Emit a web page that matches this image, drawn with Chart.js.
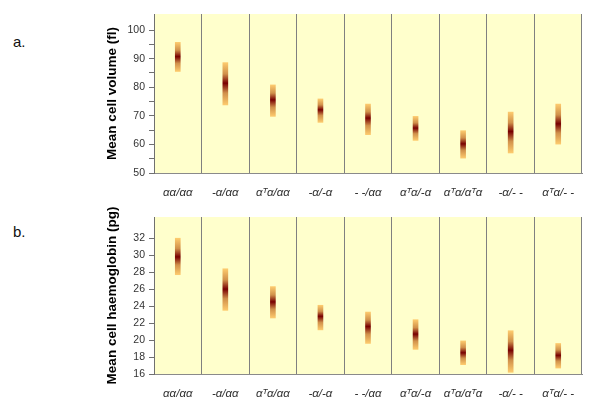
<!DOCTYPE html>
<html>
<head>
<meta charset="utf-8">
<script src="https://cdn.jsdelivr.net/npm/chart.js@4/dist/chart.umd.min.js"></script>
<style>
  body { margin: 0; background: #fff; width: 600px; height: 413px; position: relative; overflow: hidden; }
  .box { position: absolute; left: 0; width: 600px; }
  .tag { position: absolute; left: 13px; font: 15px "Liberation Sans", sans-serif; color: #111; }
</style>
</head>
<body>
<div class="tag" style="top:33px">a.</div>
<div class="tag" style="top:223px">b.</div>
<div class="box" style="top:0;height:200px"><canvas id="chart" width="600" height="200"></canvas></div>
<div class="box" style="top:200px;height:213px"><canvas id="chart2" width="600" height="213"></canvas></div>
<script>
const genotypes = ['αα/αα', '-α/αα', 'αᵀα/αα', '-α/-α', '- -/αα', 'αᵀα/-α', 'αᵀα/αᵀα', '-α/- -', 'αᵀα/- -'];

// mean cell volume (fl): range low..high, darkest at mean
const mcvLow  = [85.5, 73.8, 69.8, 67.7, 63.4, 61.4, 55.2, 57.0, 60.1];
const mcvMean = [90.7, 81.4, 75.6, 72.1, 69.2, 65.7, 60.2, 64.5, 67.2];
const mcvHigh = [95.7, 88.6, 80.8, 75.9, 74.1, 69.8, 64.8, 71.3, 74.1];

// mean cell haemoglobin (pg)
const mchLow  = [27.7, 23.5, 22.6, 21.2, 19.6, 18.9, 17.1, 16.2, 16.7];
const mchMean = [29.8, 26.0, 24.5, 22.8, 21.6, 20.7, 18.5, 18.8, 18.2];
const mchHigh = [32.0, 28.4, 26.3, 24.1, 23.3, 22.4, 19.9, 21.1, 19.6];

const bgPlugin = {
    id: 'bg',
    beforeDraw(chart){
        const {ctx, chartArea: a} = chart;
        ctx.save();
        ctx.fillStyle = '#ffffcc';
        ctx.fillRect(a.left, a.top, a.right - a.left, a.bottom - a.top);
        ctx.restore();
    }
};

function barGradient(low, mean, high){
    return function(c){
        const chart = c.chart;
        if (!chart.chartArea || c.type !== 'data') return '#c06030';
        const y = chart.scales.y;
        const i = c.dataIndex;
        const top = y.getPixelForValue(high[i]);
        const bot = y.getPixelForValue(low[i]);
        const mid = y.getPixelForValue(mean[i]);
        const g = chart.ctx.createLinearGradient(0, top, 0, bot);
        const m = Math.min(0.95, Math.max(0.05, (mid - top) / (bot - top)));
        g.addColorStop(0, '#fdcb6e');
        g.addColorStop(m * 0.55, '#d0904a');
        g.addColorStop(m, '#780000');
        g.addColorStop(m + (1 - m) * 0.45, '#d0904a');
        g.addColorStop(1, '#fdcb6e');
        return g;
    };
}

function getChart(id, low, mean, high, title, min, max, step, lastTick, padTop, axisHeight){
    const ctx = document.getElementById(id).getContext('2d');
    const chart = new Chart(ctx, {
        type: 'bar',
        data: {
            labels: genotypes,
            datasets: [{
                data: low.map((v, i) => [v, high[i]]),
                backgroundColor: barGradient(low, mean, high),
                borderWidth: 0,
                barThickness: 5
            }]
        },
        plugins: [bgPlugin],
        options: {
            responsive: false,
            animation: false,
            layout: { padding: { left: 100, right: 18, top: padTop, bottom: 0 } },
            plugins: { legend: { display: false }, tooltip: { enabled: false } },
            scales: {
                x: {
                    afterFit: s => { s.height = axisHeight; },
                    grid: {
                        offset: true,
                        drawTicks: false,
                        color: c => c.index === genotypes.length ? '#c0c0c0' : '#808080',
                        lineWidth: c => c.index === genotypes.length ? 2 : 1
                    },
                    border: { color: '#8a8a8a' },
                    ticks: {
                        padding: 13,
                        maxRotation: 0,
                        autoSkip: false,
                        color: '#333',
                        font: { family: 'Liberation Sans', style: 'italic', size: 11.5 }
                    }
                },
                y: {
                    min: min,
                    max: max,
                    afterFit: s => { s.width = 54; },
                    afterBuildTicks: s => { s.ticks = s.ticks.filter(t => t.value <= lastTick); },
                    title: {
                        display: true,
                        text: title,
                        color: '#000',
                        padding: { top: 4, bottom: 0 },
                        font: { family: 'Liberation Sans', weight: 'bold', size: 13.5 }
                    },
                    grid: { drawOnChartArea: false, tickLength: 5, color: '#707070' },
                    border: { color: '#707070' },
                    ticks: {
                        stepSize: step,
                        padding: 4,
                        color: '#333',
                        font: { family: 'Liberation Sans', size: 10.5 },
                        callback: v => (step === 5 && v % 10 !== 0) ? '' : v
                    }
                }
            }
        }
    });
}

getChart('chart', mcvLow, mcvMean, mcvHigh, 'Mean cell volume (fl)', 50, 105.6, 5, 100, 14, 27);
getChart('chart2', mchLow, mchMean, mchHigh, 'Mean cell haemoglobin (pg)', 16, 34.5, 2, 32, 17, 39);
</script>
</body>
</html>
